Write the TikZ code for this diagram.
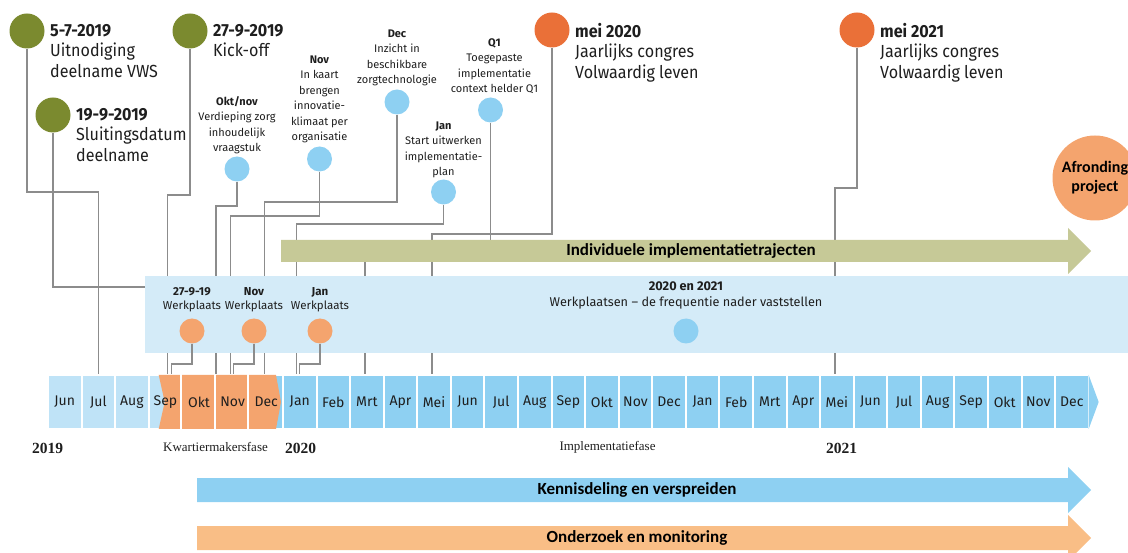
\documentclass[tikz,border=0pt]{standalone}
\usepackage{fontspec}
\setmainfont{Fira Sans}
\newfontfamily\grootft{Fira Sans}[FakeStretch=0.92]
\newfontfamily\serifft{Liberation Serif}
\newfontfamily\calib{Carlito}
\usetikzlibrary{positioning}

\definecolor{tekst}{HTML}{1E1E1E}
\definecolor{lijn}{HTML}{8C8C8C}
\definecolor{olijf}{HTML}{7B8A2F}
\definecolor{congresoranje}{HTML}{EA7038}
\definecolor{stipblauw}{HTML}{8ED0F2}
\definecolor{wporanje}{HTML}{F4A46E}
\definecolor{lichtblauw}{HTML}{BFE3F7}
\definecolor{donkerblauw}{HTML}{8ED0F2}
\definecolor{paneel}{HTML}{D4EBF8}
\definecolor{trajectgroen}{HTML}{C6C997}
\definecolor{onderzoekoranje}{HTML}{F9BE86}

\begin{document}
\begin{tikzpicture}[x=1pt,y=-1pt,
    conn/.style={draw=lijn,line width=1.4pt},
    mijlpaal/.style={circle,fill=olijf,minimum size=35pt,inner sep=0pt},
    congres/.style={circle,fill=congresoranje,minimum size=35pt,inner sep=0pt},
    stip/.style={circle,fill=stipblauw,minimum size=25pt,inner sep=0pt},
    wpstip/.style={circle,fill=wporanje,minimum size=25pt,inner sep=0pt},
    groot/.style={anchor=north west,align=left,inner sep=0pt,text=tekst,font=\grootft\fontsize{17.5}{20.5}\selectfont},
    klein/.style={align=center,inner sep=0pt,text=tekst,font=\fontsize{11}{15.5}\selectfont},
    wptekst/.style={align=center,inner sep=0pt,text=tekst,font=\fontsize{11.5}{14}\selectfont},
    maand/.style={rectangle,draw=white,line width=2pt,minimum width=33.57pt,minimum height=54pt,inner sep=0pt},
    maandtekst/.style={text=tekst,font=\fontsize{14}{16}\selectfont},
    jaar/.style={text=tekst,font=\serifft\bfseries\fontsize{15.5}{17}\selectfont},
    fasetekst/.style={text=tekst,font=\serifft\fontsize{13}{15}\selectfont},
    pijltekst/.style={text=black,font=\calib\bfseries\fontsize{17}{20}\selectfont}]
  \useasboundingbox (0,0) rectangle (1128,553);

  % maandbalk
  \foreach \m [count=\i from 0] in {Jun,Jul,Aug,Sep,Okt,Nov,Dec,Jan,Feb,Mrt,Apr,Mei,Jun,Jul,Aug,Sep,Okt,Nov,Dec,Jan,Feb,Mrt,Apr,Mei,Jun,Jul,Aug,Sep,Okt,Nov,Dec}{
    \ifnum\i<4 \colorlet{cel}{lichtblauw}\else\colorlet{cel}{donkerblauw}\fi
    \node[maand,fill=cel] (m\i) at ({48+33.57*(\i+0.5)},402) {};
  }
  \fill[donkerblauw] ([xshift=-1pt,yshift=-1pt]m30.north east) -- ([xshift=9pt]m30.east)
    -- ([xshift=-1pt,yshift=1pt]m30.south east) -- cycle;
  % kwartiermakersfase
  \fill[wporanje] ([xshift=11pt,yshift=-1pt]m3.north west) -- ([xshift=-8pt,yshift=-1pt]m6.north east)
    -- ([xshift=-3pt]m6.east) -- ([xshift=-8pt,yshift=1pt]m6.south east)
    -- ([xshift=11pt,yshift=1pt]m3.south west) -- ([xshift=17pt]m3.west) -- cycle;
  \foreach \i in {4,5,6}
    \draw[white,line width=2pt] (m\i.north west) -- (m\i.south west);
  \foreach \m [count=\i from 0] in {Jun,Jul,Aug,Sep,Okt,Nov,Dec,Jan,Feb,Mrt,Apr,Mei,Jun,Jul,Aug,Sep,Okt,Nov,Dec,Jan,Feb,Mrt,Apr,Mei,Jun,Jul,Aug,Sep,Okt,Nov,Dec}
    \node[maandtekst] (t\i) at (m\i) {\m};

  % mijlpalen
  \node[mijlpaal] (uitnod) at (27,31) {};
  \node[groot] (uitnodtxt) at (50,24) {\textbf{5-7-2019}\\Uitnodiging\\deelname VWS};
  \node[mijlpaal] (sluit) at (53,115) {};
  \node[groot] (sluittxt) at (76,108) {\textbf{19-9-2019}\\Sluitingsdatum\\deelname};
  \node[mijlpaal] (kick) at (190,31) {};
  \node[groot] (kicktxt) at (213,24) {\textbf{27-9-2019}\\Kick-off};
  \node[congres] (mei20) at (552,30) {};
  \node[groot] (mei20txt) at (575,23) {\textbf{mei 2020}\\Jaarlijks congres\\Volwaardig leven};
  \node[congres] (mei21) at (857,30) {};
  \node[groot] (mei21txt) at (880,23) {\textbf{mei 2021}\\Jaarlijks congres\\Volwaardig leven};

  \node[stip] (oktnov) at (237,169) {};
  \node[klein,above=2pt of oktnov] (oktnovtxt) {\textbf{Okt/nov}\\Verdieping zorg\\inhoudelijk\\vraagstuk};
  \node[stip] (nov) at (319.5,159) {};
  \node[klein,above=3pt of nov] (novtxt) {\textbf{Nov}\\In kaart\\brengen\\innovatie-\\klimaat per\\organisatie};
  \node[stip] (dec) at (397,102) {};
  \node[klein,above=3pt of dec] (dectxt) {\textbf{Dec}\\Inzicht in\\beschikbare\\zorgtechnologie};
  \node[stip] (jan) at (443.5,192) {};
  \node[klein,above=1pt of jan] (jantxt) {\textbf{Jan}\\Start uitwerken\\implementatie-\\plan};
  \node[stip] (qeen) at (490.5,110) {};
  \node[klein,above=3pt of qeen,xshift=4pt] (qeentxt) {\textbf{Q1}\\Toegepaste\\implementatie\\context helder Q1};

  % lijnen naar de maanden
  \draw[conn] (uitnod) -- ++(0,161) -| (m1.north);
  \draw[conn] (sluit) -- ++(0,172) -| ([xshift=2pt]m3.north);
  \draw[conn] (kick) -- ++(0,164) -| ([xshift=2pt]m3.north);
  \draw[conn] (oktnov) -- ++(0,37) -| ([xshift=17pt]m4.north);
  \draw[conn] (nov) -- ++(0,57) -| ([xshift=-2pt]m5.north);
  \draw[conn] (dec) -- ++(0,100) -| ([xshift=-2pt]m6.north);
  \draw[conn] (jan) -- ++(0,32) -| ([xshift=-3.5pt]m7.north);
  \draw[conn] (qeen) -- ++(0,140) -| ([xshift=-2pt]m9.north);
  \draw[conn] (mei20) -- ++(0,204) -| ([xshift=-2pt]m11.north);
  \draw[conn] (mei21) -- ++(0,158) -| ([xshift=-2pt]m23.north);

  % implementatietrajecten en werkplaatsen
  \fill[trajectgroen] (281,240) -- (1068,240) -- (1068,228) -- (1091,251) -- (1068,274) -- (1068,262) -- (281,262) -- cycle;
  \node[pijltekst] (traject) at (691,251) {Individuele implementatietrajecten};
  \node[fill=paneel,anchor=north west,inner sep=0pt,minimum width=983pt,minimum height=77pt] (werkband) at (145,276) {};

  \node[wpstip] (wp1) at (192,331) {};
  \node[wptekst,above=6pt of wp1] (wp1txt) {\textbf{27-9-19}\\Werkplaats};
  \node[wpstip] (wp2) at (254,331) {};
  \node[wptekst,above=6pt of wp2] (wp2txt) {\textbf{Nov}\\Werkplaats};
  \node[wpstip] (wp3) at (320,331) {};
  \node[wptekst,above=6pt of wp3] (wp3txt) {\textbf{Jan}\\Werkplaats};
  \node[stip] (wp4) at (686,331) {};
  \node[wptekst,font=\fontsize{12.7}{15.5}\selectfont,above=9pt of wp4] (wp4txt) {\textbf{2020 en 2021}\\Werkplaatsen \textendash{} de frequentie nader vaststellen};

  \draw[conn] (wp1) -- ++(0,33) -| ([xshift=6pt]m3.north);
  \draw[conn] (wp2) -- ++(0,33) -| ([xshift=1pt]m5.north);
  \draw[conn] (wp3) -- ++(0,33) -| ([xshift=-0.5pt]m7.north);

  % jaren en fasen
  \node[jaar] (j2019) at (47.5,448.5) {2019};
  \node[fasetekst] (kwartier) at (215.5,447) {Kwartiermakersfase};
  \node[jaar] (j2020) at (300.5,448.5) {2020};
  \node[fasetekst] (implfase) at (607.5,447) {Implementatiefase};
  \node[jaar] (j2021) at (841.5,448.5) {2021};

  % doorlopende lijnen
  \fill[donkerblauw] (197,478) -- (1068,478) -- (1068,467) -- (1091,490) -- (1068,513) -- (1068,502) -- (197,502) -- cycle;
  \node[pijltekst] (kennis) at (637,490) {Kennisdeling en verspreiden};
  \fill[onderzoekoranje] (197,526) -- (1068,526) -- (1068,515) -- (1091,538) -- (1068,561) -- (1068,550) -- (197,550) -- cycle;
  \node[pijltekst] (onderzoek) at (637,538) {Onderzoek en monitoring};

  \node[circle,fill=wporanje,minimum size=85pt,inner sep=0pt,align=center,text=black,
        font=\calib\bfseries\fontsize{16}{19}\selectfont] (afronding) at (1095,178) {Afronding\\project};
\end{tikzpicture}
\end{document}
